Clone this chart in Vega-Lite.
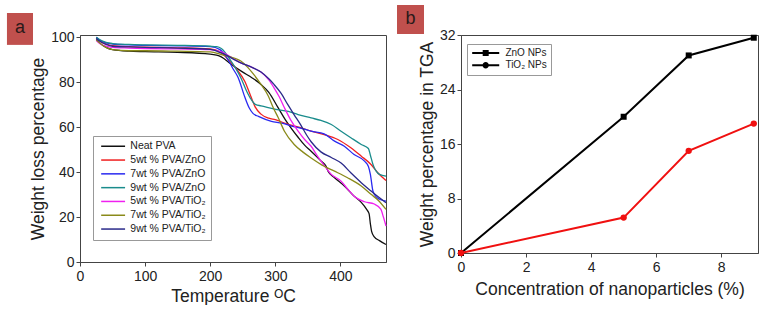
{
  "$schema": "https://vega.github.io/schema/vega-lite/v6.json",
  "padding": {"left": 6, "top": 4, "right": 0, "bottom": 0},
  "background": "white",
  "config": {
    "font": "Liberation Sans",
    "view": {"stroke": "#444", "strokeWidth": 1},
    "axis": {"labelColor": "#222", "titleColor": "#222", "domainColor": "#444", "tickColor": "#444", "grid": false, "labelFontSize": 14, "titleFontSize": 17.5, "titleFontWeight": "normal", "labelFlush": false, "labelOverlap": false}
  },
  "datasets": {
    "tga": [
      {"s":"Neat PVA","t":25,"w":99},{"s":"Neat PVA","t":30,"w":97.5},{"s":"Neat PVA","t":40,"w":95.5},{"s":"Neat PVA","t":50,"w":94.5},{"s":"Neat PVA","t":75,"w":93.8},{"s":"Neat PVA","t":100,"w":93.6},{"s":"Neat PVA","t":150,"w":93.3},{"s":"Neat PVA","t":200,"w":92.5},{"s":"Neat PVA","t":217,"w":91.3},{"s":"Neat PVA","t":232,"w":88},{"s":"Neat PVA","t":250,"w":84.5},{"s":"Neat PVA","t":264,"w":82},{"s":"Neat PVA","t":278,"w":79},{"s":"Neat PVA","t":290,"w":75.5},{"s":"Neat PVA","t":304,"w":68.8},{"s":"Neat PVA","t":315,"w":63.5},{"s":"Neat PVA","t":324,"w":59.7},{"s":"Neat PVA","t":335,"w":55.5},{"s":"Neat PVA","t":345,"w":52},{"s":"Neat PVA","t":355,"w":49.3},{"s":"Neat PVA","t":370,"w":45},{"s":"Neat PVA","t":378,"w":42.6},{"s":"Neat PVA","t":381,"w":40.4},{"s":"Neat PVA","t":391,"w":37.5},{"s":"Neat PVA","t":406,"w":33.8},{"s":"Neat PVA","t":421,"w":29.3},{"s":"Neat PVA","t":432,"w":26.5},{"s":"Neat PVA","t":440,"w":23.5},{"s":"Neat PVA","t":444,"w":21.5},{"s":"Neat PVA","t":446,"w":17},{"s":"Neat PVA","t":448,"w":13.5},{"s":"Neat PVA","t":452,"w":11.2},{"s":"Neat PVA","t":460,"w":9.5},{"s":"Neat PVA","t":470,"w":7.8},
      {"s":" 5wt % PVA/ZnO","t":25,"w":99.5},{"s":" 5wt % PVA/ZnO","t":30,"w":98.3},{"s":" 5wt % PVA/ZnO","t":40,"w":97},{"s":" 5wt % PVA/ZnO","t":50,"w":96.3},{"s":" 5wt % PVA/ZnO","t":75,"w":95.8},{"s":" 5wt % PVA/ZnO","t":100,"w":95.6},{"s":" 5wt % PVA/ZnO","t":150,"w":95.3},{"s":" 5wt % PVA/ZnO","t":200,"w":94.8},{"s":" 5wt % PVA/ZnO","t":215,"w":93.5},{"s":" 5wt % PVA/ZnO","t":228,"w":90},{"s":" 5wt % PVA/ZnO","t":240,"w":86},{"s":" 5wt % PVA/ZnO","t":253,"w":80.4},{"s":" 5wt % PVA/ZnO","t":262,"w":74},{"s":" 5wt % PVA/ZnO","t":269,"w":69},{"s":" 5wt % PVA/ZnO","t":278,"w":65.8},{"s":" 5wt % PVA/ZnO","t":290,"w":64},{"s":" 5wt % PVA/ZnO","t":300,"w":63.3},{"s":" 5wt % PVA/ZnO","t":320,"w":61.2},{"s":" 5wt % PVA/ZnO","t":340,"w":59.7},{"s":" 5wt % PVA/ZnO","t":355,"w":58.2},{"s":" 5wt % PVA/ZnO","t":375,"w":56.7},{"s":" 5wt % PVA/ZnO","t":396,"w":54.5},{"s":" 5wt % PVA/ZnO","t":416,"w":50.8},{"s":" 5wt % PVA/ZnO","t":432,"w":47.1},{"s":" 5wt % PVA/ZnO","t":447,"w":43.4},{"s":" 5wt % PVA/ZnO","t":458,"w":39.5},{"s":" 5wt % PVA/ZnO","t":470,"w":36.3},
      {"s":"7wt % PVA/ZnO","t":25,"w":100},{"s":"7wt % PVA/ZnO","t":30,"w":98.8},{"s":"7wt % PVA/ZnO","t":40,"w":97.5},{"s":"7wt % PVA/ZnO","t":50,"w":97},{"s":"7wt % PVA/ZnO","t":75,"w":96.6},{"s":"7wt % PVA/ZnO","t":100,"w":96.4},{"s":"7wt % PVA/ZnO","t":150,"w":96.2},{"s":"7wt % PVA/ZnO","t":200,"w":95.8},{"s":"7wt % PVA/ZnO","t":215,"w":94.5},{"s":"7wt % PVA/ZnO","t":227,"w":90.2},{"s":"7wt % PVA/ZnO","t":235,"w":86},{"s":"7wt % PVA/ZnO","t":243,"w":82},{"s":"7wt % PVA/ZnO","t":253,"w":73.5},{"s":"7wt % PVA/ZnO","t":260,"w":68.5},{"s":"7wt % PVA/ZnO","t":266,"w":66},{"s":"7wt % PVA/ZnO","t":274,"w":64.8},{"s":"7wt % PVA/ZnO","t":294,"w":62.6},{"s":"7wt % PVA/ZnO","t":310,"w":61.8},{"s":"7wt % PVA/ZnO","t":325,"w":60.5},{"s":"7wt % PVA/ZnO","t":340,"w":59.5},{"s":"7wt % PVA/ZnO","t":355,"w":58.2},{"s":"7wt % PVA/ZnO","t":375,"w":57},{"s":"7wt % PVA/ZnO","t":391,"w":53.8},{"s":"7wt % PVA/ZnO","t":406,"w":51.5},{"s":"7wt % PVA/ZnO","t":421,"w":47.8},{"s":"7wt % PVA/ZnO","t":437,"w":44.9},{"s":"7wt % PVA/ZnO","t":443,"w":42.5},{"s":"7wt % PVA/ZnO","t":446,"w":39},{"s":"7wt % PVA/ZnO","t":450,"w":31.5},{"s":"7wt % PVA/ZnO","t":455,"w":29},{"s":"7wt % PVA/ZnO","t":460,"w":27.9},{"s":"7wt % PVA/ZnO","t":470,"w":27.1},
      {"s":"9wt % PVA/ZnO","t":25,"w":100},{"s":"9wt % PVA/ZnO","t":30,"w":99},{"s":"9wt % PVA/ZnO","t":40,"w":97.7},{"s":"9wt % PVA/ZnO","t":50,"w":97.2},{"s":"9wt % PVA/ZnO","t":75,"w":96.8},{"s":"9wt % PVA/ZnO","t":100,"w":96.6},{"s":"9wt % PVA/ZnO","t":150,"w":96.4},{"s":"9wt % PVA/ZnO","t":200,"w":96},{"s":"9wt % PVA/ZnO","t":210,"w":95.8},{"s":"9wt % PVA/ZnO","t":217,"w":95},{"s":"9wt % PVA/ZnO","t":232,"w":89.4},{"s":"9wt % PVA/ZnO","t":247,"w":82},{"s":"9wt % PVA/ZnO","t":256,"w":76},{"s":"9wt % PVA/ZnO","t":263,"w":72.3},{"s":"9wt % PVA/ZnO","t":270,"w":70},{"s":"9wt % PVA/ZnO","t":278,"w":69.5},{"s":"9wt % PVA/ZnO","t":299,"w":68},{"s":"9wt % PVA/ZnO","t":320,"w":67},{"s":"9wt % PVA/ZnO","t":335,"w":65.6},{"s":"9wt % PVA/ZnO","t":355,"w":64.1},{"s":"9wt % PVA/ZnO","t":370,"w":63},{"s":"9wt % PVA/ZnO","t":386,"w":61.2},{"s":"9wt % PVA/ZnO","t":401,"w":58.2},{"s":"9wt % PVA/ZnO","t":416,"w":55.3},{"s":"9wt % PVA/ZnO","t":432,"w":52.3},{"s":"9wt % PVA/ZnO","t":443,"w":50.5},{"s":"9wt % PVA/ZnO","t":446,"w":47.5},{"s":"9wt % PVA/ZnO","t":450,"w":43.4},{"s":"9wt % PVA/ZnO","t":460,"w":39},{"s":"9wt % PVA/ZnO","t":470,"w":38.2},
      {"s":"5wt % PVA/TiO₂","t":25,"w":98.5},{"s":"5wt % PVA/TiO₂","t":30,"w":97.2},{"s":"5wt % PVA/TiO₂","t":40,"w":96},{"s":"5wt % PVA/TiO₂","t":50,"w":95.5},{"s":"5wt % PVA/TiO₂","t":75,"w":95.2},{"s":"5wt % PVA/TiO₂","t":100,"w":95},{"s":"5wt % PVA/TiO₂","t":150,"w":94.8},{"s":"5wt % PVA/TiO₂","t":200,"w":94.5},{"s":"5wt % PVA/TiO₂","t":217,"w":93.5},{"s":"5wt % PVA/TiO₂","t":247,"w":88.6},{"s":"5wt % PVA/TiO₂","t":265,"w":86.5},{"s":"5wt % PVA/TiO₂","t":278,"w":84.5},{"s":"5wt % PVA/TiO₂","t":290,"w":81},{"s":"5wt % PVA/TiO₂","t":298,"w":77.5},{"s":"5wt % PVA/TiO₂","t":306,"w":73.5},{"s":"5wt % PVA/TiO₂","t":314,"w":68.6},{"s":"5wt % PVA/TiO₂","t":324,"w":63},{"s":"5wt % PVA/TiO₂","t":335,"w":58.2},{"s":"5wt % PVA/TiO₂","t":345,"w":54.5},{"s":"5wt % PVA/TiO₂","t":355,"w":51.5},{"s":"5wt % PVA/TiO₂","t":365,"w":47},{"s":"5wt % PVA/TiO₂","t":375,"w":43},{"s":"5wt % PVA/TiO₂","t":386,"w":39},{"s":"5wt % PVA/TiO₂","t":401,"w":36},{"s":"5wt % PVA/TiO₂","t":411,"w":32.5},{"s":"5wt % PVA/TiO₂","t":421,"w":29.3},{"s":"5wt % PVA/TiO₂","t":437,"w":26.8},{"s":"5wt % PVA/TiO₂","t":452,"w":25.8},{"s":"5wt % PVA/TiO₂","t":462,"w":23.5},{"s":"5wt % PVA/TiO₂","t":466,"w":20},{"s":"5wt % PVA/TiO₂","t":470,"w":16},
      {"s":"7wt % PVA/TiO₂","t":25,"w":99},{"s":"7wt % PVA/TiO₂","t":30,"w":97.5},{"s":"7wt % PVA/TiO₂","t":40,"w":95.5},{"s":"7wt % PVA/TiO₂","t":50,"w":94.5},{"s":"7wt % PVA/TiO₂","t":75,"w":94},{"s":"7wt % PVA/TiO₂","t":100,"w":94},{"s":"7wt % PVA/TiO₂","t":150,"w":93.8},{"s":"7wt % PVA/TiO₂","t":200,"w":93.5},{"s":"7wt % PVA/TiO₂","t":217,"w":92.3},{"s":"7wt % PVA/TiO₂","t":247,"w":89.4},{"s":"7wt % PVA/TiO₂","t":258,"w":86.5},{"s":"7wt % PVA/TiO₂","t":268,"w":83},{"s":"7wt % PVA/TiO₂","t":278,"w":79},{"s":"7wt % PVA/TiO₂","t":289,"w":74},{"s":"7wt % PVA/TiO₂","t":297,"w":68.5},{"s":"7wt % PVA/TiO₂","t":304,"w":64.5},{"s":"7wt % PVA/TiO₂","t":314,"w":58.2},{"s":"7wt % PVA/TiO₂","t":329,"w":52.3},{"s":"7wt % PVA/TiO₂","t":342,"w":49},{"s":"7wt % PVA/TiO₂","t":355,"w":46.3},{"s":"7wt % PVA/TiO₂","t":375,"w":42.6},{"s":"7wt % PVA/TiO₂","t":391,"w":40.4},{"s":"7wt % PVA/TiO₂","t":411,"w":37.5},{"s":"7wt % PVA/TiO₂","t":432,"w":33.8},{"s":"7wt % PVA/TiO₂","t":447,"w":30.1},{"s":"7wt % PVA/TiO₂","t":458,"w":27.5},{"s":"7wt % PVA/TiO₂","t":470,"w":23.4},
      {"s":"9wt % PVA/TiO₂","t":25,"w":99.5},{"s":"9wt % PVA/TiO₂","t":30,"w":98.3},{"s":"9wt % PVA/TiO₂","t":40,"w":96.8},{"s":"9wt % PVA/TiO₂","t":50,"w":96},{"s":"9wt % PVA/TiO₂","t":75,"w":95.7},{"s":"9wt % PVA/TiO₂","t":100,"w":95.5},{"s":"9wt % PVA/TiO₂","t":150,"w":95.2},{"s":"9wt % PVA/TiO₂","t":200,"w":94.6},{"s":"9wt % PVA/TiO₂","t":217,"w":93},{"s":"9wt % PVA/TiO₂","t":247,"w":88.6},{"s":"9wt % PVA/TiO₂","t":265,"w":86.5},{"s":"9wt % PVA/TiO₂","t":278,"w":84.5},{"s":"9wt % PVA/TiO₂","t":290,"w":81.5},{"s":"9wt % PVA/TiO₂","t":298,"w":79},{"s":"9wt % PVA/TiO₂","t":309,"w":75},{"s":"9wt % PVA/TiO₂","t":319,"w":70.1},{"s":"9wt % PVA/TiO₂","t":329,"w":65.5},{"s":"9wt % PVA/TiO₂","t":339,"w":61},{"s":"9wt % PVA/TiO₂","t":348,"w":56.5},{"s":"9wt % PVA/TiO₂","t":355,"w":53.5},{"s":"9wt % PVA/TiO₂","t":370,"w":49},{"s":"9wt % PVA/TiO₂","t":386,"w":46.5},{"s":"9wt % PVA/TiO₂","t":401,"w":44},{"s":"9wt % PVA/TiO₂","t":416,"w":39.7},{"s":"9wt % PVA/TiO₂","t":432,"w":35.3},{"s":"9wt % PVA/TiO₂","t":447,"w":31.6},{"s":"9wt % PVA/TiO₂","t":458,"w":29},{"s":"9wt % PVA/TiO₂","t":470,"w":26.4}
    ],
    "conc": [
      {"s":"ZnO NPs","c":0,"w":0},{"s":"ZnO NPs","c":5,"w":20},{"s":"ZnO NPs","c":7,"w":29},{"s":"ZnO NPs","c":9,"w":31.6},
      {"s":"TiO₂ NPs","c":0,"w":0},{"s":"TiO₂ NPs","c":5,"w":5.2},{"s":"TiO₂ NPs","c":7,"w":15},{"s":"TiO₂ NPs","c":9,"w":19}
    ]
  },
  "bounds": "flush",
  "spacing": 75,
  "resolve": {"scale": {"color": "independent", "shape": "independent", "x": "independent", "y": "independent"}, "legend": {"color": "independent", "shape": "independent"}},
  "hconcat": [
    {
      "width": 306,
      "height": 227,
      "layer": [
        {
          "data": {"name": "tga"},
          "mark": {"type": "line", "interpolate": "monotone", "strokeWidth": 1.3},
          "encoding": {
            "x": {"field": "t", "type": "quantitative", "scale": {"domain": [0, 470], "nice": false},
              "axis": {"title": "Temperature ᴼC", "values": [0,50,100,150,200,250,300,350,400,450], "labelExpr": "datum.value % 100 === 0 ? datum.label : ''", "tickSize": {"condition": {"test": "datum.value % 100 === 0", "value": 4}, "value": 2.5}, "labelPadding": 3, "titlePadding": 4}},
            "y": {"field": "w", "type": "quantitative", "scale": {"domain": [0, 101], "nice": false},
              "axis": {"title": "Weight loss percentage", "values": [0,10,20,30,40,50,60,70,80,90,100], "labelExpr": "datum.value % 20 === 0 ? datum.label : ''", "tickSize": {"condition": {"test": "datum.value % 20 === 0", "value": 4}, "value": 2.5}, "labelPadding": 2, "titlePadding": 3}},
            "color": {"field": "s", "type": "nominal", "sort": null,
              "scale": {"domain": ["Neat PVA", " 5wt % PVA/ZnO", "7wt % PVA/ZnO", "9wt % PVA/ZnO", "5wt % PVA/TiO₂", "7wt % PVA/TiO₂", "9wt % PVA/TiO₂"], "range": ["#111111", "#f02020", "#2a2af0", "#1a8c8c", "#f020f0", "#8a8a1a", "#2a2a8a"]},
              "legend": {"title": null, "orient": "none", "legendX": 13, "legendY": 101, "strokeColor": "#999", "fillColor": "white", "padding": 5, "symbolType": "M-0.8,0H8.4", "symbolSize": 27, "symbolStrokeWidth": 1.5, "labelFontSize": 10.5, "labelColor": "#222", "rowPadding": 2.8, "labelOffset": 21.8}}
          }
        },
        {
          "data": {"values": [{"panel": "a"}]},
          "mark": {"type": "rect", "fill": "#c0504d"},
          "encoding": {
            "x": {"datum": -112.2, "type": "quantitative", "scale": {"domain": [0, 470], "nice": false}},
            "x2": {"datum": -72.2},
            "y": {"datum": 110.8, "type": "quantitative", "scale": {"domain": [0, 101], "nice": false}},
            "y2": {"datum": 96.6}
          }
        },
        {
          "data": {"values": [{"panel": "a"}]},
          "mark": {"type": "text", "fontSize": 18, "color": "#2a1a1a", "baseline": "middle", "align": "center"},
          "encoding": {
            "x": {"datum": -92.2, "type": "quantitative", "scale": {"domain": [0, 470], "nice": false}},
            "y": {"datum": 104.2, "type": "quantitative", "scale": {"domain": [0, 101], "nice": false}},
            "text": {"field": "panel", "type": "nominal"}
          }
        }
      ]
    },
    {
      "width": 297,
      "height": 218,
      "resolve": {"scale": {"shape": "independent"}},
      "layer": [
        {
          "data": {"name": "conc"},
          "mark": {"type": "line", "strokeWidth": 2},
          "encoding": {
            "x": {"field": "c", "type": "quantitative", "scale": {"domain": [0, 9.13], "nice": false},
              "axis": {"title": "Concentration of nanoparticles (%)", "values": [0,1,2,3,4,5,6,7,8,9], "labelExpr": "datum.value % 2 === 0 ? datum.label : ''", "tickSize": {"condition": {"test": "datum.value % 2 === 0", "value": 4}, "value": 2.5}, "labelPadding": 3, "titlePadding": 6}},
            "y": {"field": "w", "type": "quantitative", "scale": {"domain": [0, 32], "nice": false},
              "axis": {"title": "Weight percentage in TGA", "values": [0,4,8,12,16,20,24,28,32], "labelExpr": "datum.value % 8 === 0 ? datum.label : ''", "tickSize": {"condition": {"test": "datum.value % 8 === 0", "value": 4}, "value": 2.5}, "labelPadding": 2, "titlePadding": 3}},
            "color": {"field": "s", "type": "nominal", "sort": null, "scale": {"domain": ["ZnO NPs", "TiO₂ NPs"], "range": ["#000000", "#f01010"]}, "legend": null}
          }
        },
        {
          "data": {"name": "conc"},
          "transform": [{"filter": "datum.s === 'ZnO NPs'"}],
          "mark": {"type": "point", "shape": "square", "filled": true, "size": 36, "opacity": 1, "color": "#000000"},
          "encoding": {
            "x": {"field": "c", "type": "quantitative"},
            "y": {"field": "w", "type": "quantitative"}
          }
        },
        {
          "data": {"name": "conc"},
          "transform": [{"filter": "datum.s !== 'ZnO NPs'"}],
          "mark": {"type": "point", "shape": "circle", "filled": true, "size": 40, "opacity": 1, "color": "#f01010"},
          "encoding": {
            "x": {"field": "c", "type": "quantitative"},
            "y": {"field": "w", "type": "quantitative"}
          }
        },
        {
          "data": {"name": "conc"},
          "mark": {"type": "point", "filled": true, "opacity": 0},
          "encoding": {
            "x": {"field": "c", "type": "quantitative"},
            "y": {"field": "w", "type": "quantitative"},
            "color": {"field": "s", "type": "nominal", "sort": null, "scale": {"domain": ["ZnO NPs", "TiO₂ NPs"], "range": ["#000000", "#f01010"]},
              "legend": {"title": null, "orient": "none", "legendX": 6, "legendY": 9, "strokeColor": "#999", "fillColor": "white", "padding": 4, "symbolSize": 31.4, "symbolOpacity": 1, "symbolStrokeWidth": 0, "labelFontSize": 10, "labelColor": "#222", "rowPadding": 2.3, "labelOffset": 24.4}},
            "shape": {"field": "s", "type": "nominal", "sort": null,
              "scale": {"domain": ["ZnO NPs", "TiO₂ NPs"], "range": ["M-1.36,-0.36H8.29V0.36H-1.36Z M2.39,-1.07H4.53V1.07H2.39Z", "M-1.36,-0.36H8.29V0.36H-1.36Z M2.32,0A1.14,1.14 0 1,1 4.6,0A1.14,1.14 0 1,1 2.32,0Z"]},
              "legend": {"title": null, "orient": "none", "legendX": 6, "legendY": 9, "strokeColor": "#999", "fillColor": "white", "padding": 4, "symbolSize": 31.4, "symbolOpacity": 1, "symbolStrokeWidth": 0, "labelFontSize": 10, "labelColor": "#222", "rowPadding": 2.3, "labelOffset": 24.4}}
          }
        },
        {
          "data": {"values": [{"panel": "b"}]},
          "mark": {"type": "rect", "fill": "#c0504d"},
          "encoding": {
            "x": {"datum": -1.967, "type": "quantitative"},
            "x2": {"datum": -1.137},
            "y": {"datum": 36.4, "type": "quantitative"},
            "y2": {"datum": 32.15}
          }
        },
        {
          "data": {"values": [{"panel": "b"}]},
          "mark": {"type": "text", "fontSize": 18, "color": "#2a1a1a", "baseline": "middle", "align": "center"},
          "encoding": {
            "x": {"datum": -1.55, "type": "quantitative"},
            "y": {"datum": 34.3, "type": "quantitative"},
            "text": {"field": "panel", "type": "nominal"}
          }
        }
      ]
    }
  ]
}
